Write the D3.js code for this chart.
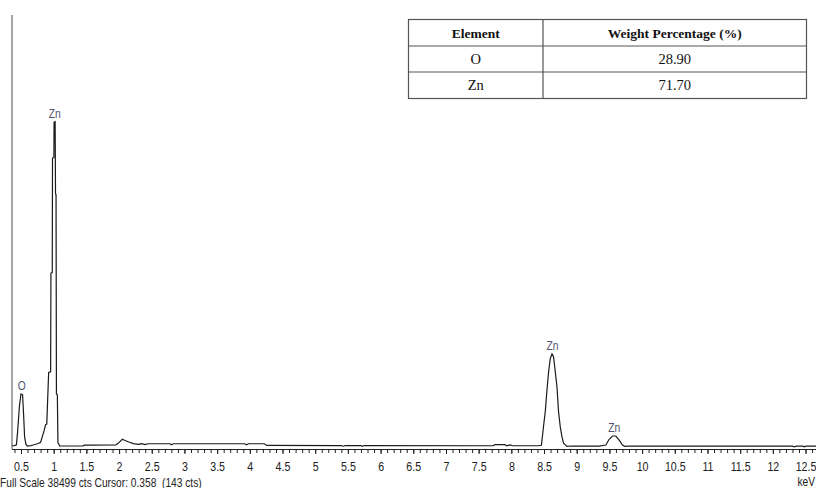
<!DOCTYPE html>
<html><head><meta charset="utf-8">
<script src="https://cdn.jsdelivr.net/npm/d3@7"></script>
<style>
html,body{margin:0;padding:0;background:#fff;}
svg{display:block;}
</style></head>
<body>
<svg id="chart" width="816" height="488"></svg>
<script>
// ---- data ----
const energyKeV = [0.362,0.40,0.43,0.448,0.476,0.50,0.524,0.54,0.555,0.575,0.596,0.65,0.70,0.75,0.80,0.825,0.856,0.876,0.894,0.923,0.953,0.958,0.978,0.982,1.003,1.006,1.022,1.028,1.036,1.042,1.056,1.065,1.085,1.092,1.2,1.45,1.47,1.55,1.95,1.99,2.05,2.10,2.16,2.22,2.30,2.34,2.40,2.44,2.78,2.80,2.83,3.92,3.95,3.98,4.22,4.26,5.40,5.43,5.46,5.70,5.72,5.75,7.72,7.75,7.90,7.93,7.98,8.02,8.40,8.46,8.469,8.493,8.519,8.545,8.570,8.596,8.622,8.646,8.672,8.698,8.722,8.748,8.774,8.799,8.851,8.93,9.34,9.445,9.496,9.548,9.598,9.649,9.700,9.735,9.79,12.30,12.33,12.36,12.46,12.48,12.51,12.66];
const counts = [110,120,200,1350,3650,4720,4650,2850,900,250,90,130,200,290,420,900,1500,2000,2050,6650,6700,15500,15550,25750,25800,28960,29000,22550,22500,4720,4650,380,200,100,90,100,160,170,180,350,690,560,420,300,230,300,210,290,290,200,290,290,190,290,290,140,130,70,130,130,60,130,110,210,210,110,190,110,110,150,620,1870,3150,5080,6710,7900,8290,8050,6710,5370,3150,1810,920,330,60,90,80,180,690,980,980,620,180,60,80,70,20,70,70,10,70,70];
const fullScale = 38499;
const peakElements = ["O","Zn","Zn","Zn"];
const peakKeV = [0.51,1.015,8.63,9.575];
const majorTicks = [0.5,1,1.5,2,2.5,3,3.5,4,4.5,5,5.5,6,6.5,7,7.5,8,8.5,9,9.5,10,10.5,11,11.5,12,12.5];
const majorTickLabels = ["0.5","1","1.5","2","2.5","3","3.5","4","4.5","5","5.5","6","6.5","7","7.5","8","8.5","9","9.5","10","10.5","11","11.5","12","12.5"];
const tableHeader = ["Element","Weight Percentage (%)"];
const tableElements = ["O","Zn"];
const tableWeights = ["28.90","71.70"];
const footerText = "Full Scale 38499 cts Cursor: 0.358  (143 cts)";
const unitText = "keV";

// ---- layout ----
const svg = d3.select("#chart");
const sans = "'Liberation Sans',Arial,sans-serif";
const squeeze = 0.82;
const x = d3.scaleLinear().domain([0.3623, 12.66]).range([12, 816]);
const y = d3.scaleLinear().domain([0, fullScale]).range([447, 15]);

// left axis line
svg.append("line").attr("x1",12).attr("x2",12).attr("y1",15).attr("y2",449)
  .attr("stroke","#a6a6a6").attr("stroke-width",2);

// bottom axis: minor ticks
const minor = d3.range(4, 127).map(d => d/10);
const axMinor = svg.append("g").attr("transform","translate(0,449)")
  .call(d3.axisBottom(x).tickValues(minor).tickSize(4).tickFormat(""));
axMinor.select(".domain").attr("stroke","#222").attr("d","M12,0.5H816");
axMinor.selectAll(".tick line").attr("stroke","#222");

const axMajor = svg.append("g").attr("transform","translate(0,449)")
  .call(d3.axisBottom(x).tickValues(majorTicks).tickSize(5)
    .tickFormat((d,i) => majorTickLabels[i]));
axMajor.select(".domain").remove();
axMajor.selectAll(".tick line").attr("stroke","#222");
axMajor.selectAll(".tick text").attr("font-family",sans).attr("font-size",13)
  .attr("fill","#222").attr("y",0).attr("dy",0)
  .attr("transform",`translate(0,22) scale(${squeeze},1)`);

// spectrum
const pts = energyKeV.map((e,i) => [e, counts[i]]);
svg.append("path").datum(pts)
  .attr("fill","none").attr("stroke","#1a1a1a").attr("stroke-width",1.2)
  .attr("d", d3.line().x(d => x(d[0])).y(d => y(d[1])).curve(d3.curveLinear));

// peak labels
peakKeV.forEach((k,i) => {
  let m = 0;
  pts.forEach(p => { if (Math.abs(p[0]-k) < 0.06 && p[1] > m) m = p[1]; });
  svg.append("text").attr("transform",`translate(${x(k)},${y(m)-4}) scale(${squeeze},1)`)
    .attr("text-anchor","middle").attr("font-family",sans).attr("font-size",12.5)
    .attr("fill","#4f5570").text(peakElements[i]);
});

// footer
svg.append("text").attr("transform",`translate(0,487) scale(0.85,1)`).attr("font-family",sans)
  .attr("font-size",12).attr("fill","#222").attr("xml:space","preserve").text(footerText);
svg.append("text").attr("transform",`translate(815,486) scale(0.85,1)`).attr("text-anchor","end")
  .attr("font-family",sans).attr("font-size",12).attr("fill","#222").text(unitText);

// table
const tx = [408.5, 543, 806.5];
const ty = [19.5, 46, 72, 98.5];
const tbl = svg.append("g");
tbl.append("rect").attr("x",tx[0]).attr("y",ty[0]).attr("width",tx[2]-tx[0]).attr("height",ty[3]-ty[0])
  .attr("fill","#fff").attr("stroke","#555").attr("stroke-width",1.2);
[ty[1], ty[2]].forEach(v => tbl.append("line").attr("x1",tx[0]).attr("x2",tx[2]).attr("y1",v).attr("y2",v)
  .attr("stroke","#555").attr("stroke-width",1.2));
tbl.append("line").attr("x1",tx[1]).attr("x2",tx[1]).attr("y1",ty[0]).attr("y2",ty[3])
  .attr("stroke","#555").attr("stroke-width",1.2);
const serif = "'Liberation Serif','Times New Roman',serif";
const cx = [(tx[0]+tx[1])/2, (tx[1]+tx[2])/2];
tableHeader.forEach((h,j) => tbl.append("text").attr("x",cx[j]).attr("y",(ty[0]+ty[1])/2+4.8)
  .attr("text-anchor","middle").attr("font-family",serif).attr("font-weight","bold")
  .attr("font-size",13.5).attr("fill","#111").text(h));
tableElements.forEach((el,i) => {
  const yy = (ty[i+1]+ty[i+2])/2 + 5;
  tbl.append("text").attr("x",cx[0]).attr("y",yy).attr("text-anchor","middle")
    .attr("font-family",serif).attr("font-size",14.5).attr("fill","#111").text(el);
  tbl.append("text").attr("x",cx[1]).attr("y",yy).attr("text-anchor","middle")
    .attr("font-family",serif).attr("font-size",14.5).attr("fill","#111").text(tableWeights[i]);
});
</script>
</body></html>
